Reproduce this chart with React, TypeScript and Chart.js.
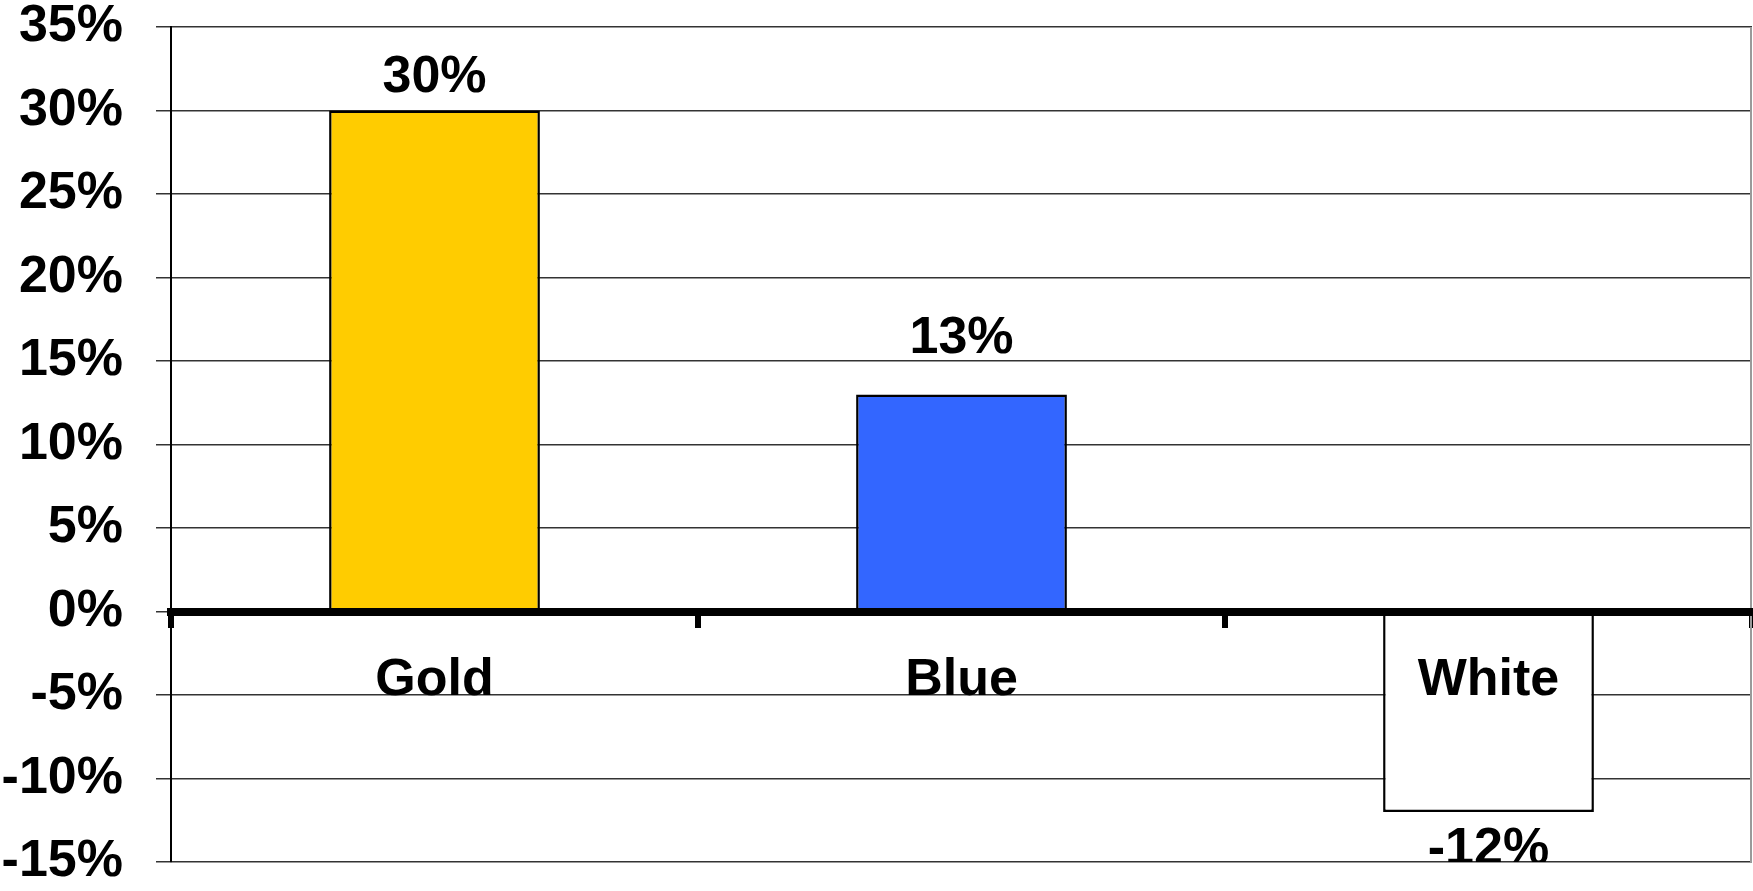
import React, { useEffect, useRef } from "react";
import { Chart, registerables } from "chart.js";

Chart.register(...registerables);

const categories = ["Gold", "Blue", "White"];
const values = [30, 13, -12];
const barColors = ["#FFCC00", "#3366FF", "#FFFFFF"];
const valueLabels = ["30%", "13%", "-12%"];
const yMin = -15;
const yMax = 35;
const yStep = 5;
const labelOffsets = [33, 56, 38];

const FONT = '"Liberation Sans", Arial, sans-serif';

const valueLabelPlugin = {
  id: "valueLabels",
  afterDatasetsDraw(chart: any) {
    const { ctx, chartArea } = chart;
    const meta = chart.getDatasetMeta(0);
    ctx.save();
    ctx.beginPath();
    ctx.rect(chartArea.left, chartArea.top, chartArea.right - chartArea.left, chartArea.bottom - chartArea.top);
    ctx.clip();
    ctx.font = `bold 52px ${FONT}`;
    ctx.fillStyle = "#000";
    ctx.textAlign = "center";
    ctx.textBaseline = "middle";
    meta.data.forEach((bar: any, i: number) => {
      const v = values[i];
      const off = labelOffsets[i];
      const y = v >= 0 ? bar.y - off : bar.y + off;
      ctx.fillText(valueLabels[i], bar.x, y);
    });
    ctx.restore();
    // right frame line
    ctx.save();
    ctx.strokeStyle = "#9a9a9a";
    ctx.lineWidth = 2;
    ctx.beginPath();
    ctx.moveTo(chartArea.right - 1, chartArea.top);
    ctx.lineTo(chartArea.right - 1, chartArea.bottom);
    ctx.stroke();
    ctx.restore();
  },
};

export default function App() {
  const ref = useRef<HTMLCanvasElement | null>(null);

  useEffect(() => {
    document.body.style.margin = "0";
    const canvas = ref.current!;
    const chart = new Chart(canvas, {
      type: "bar",
      data: {
        labels: categories,
        datasets: [
          {
            data: values,
            backgroundColor: barColors,
            borderColor: "#000",
            borderWidth: 2.5,
            borderSkipped: false,
            barPercentage: 0.4,
            categoryPercentage: 1,
          },
        ],
      },
      options: {
        animation: false,
        responsive: false,
        devicePixelRatio: 1,
        layout: { padding: { top: 27, bottom: 29, right: 1, left: 0 } },
        plugins: {
          legend: { display: false },
          tooltip: { enabled: false },
          title: { display: false },
        },
        scales: {
          x: {
            type: "category",
            position: { y: 0 } as any,
            offset: true,
            grid: {
              display: true,
              drawOnChartArea: false,
              drawTicks: true,
              tickLength: 12,
              lineWidth: 6,
              color: "#000",
              offset: true,
            },
            border: { display: true, width: 8, color: "#000", z: 1 } as any,
            ticks: {
              z: 1,
              padding: 26,
              color: "#000",
              font: { family: FONT, size: 52, weight: "bold" },
              maxRotation: 0,
            },
          },
          y: {
            min: yMin,
            max: yMax,
            position: "left",
            afterFit(scale: any) {
              scale.width = 171;
              scale.paddingTop = 0;
              scale.paddingBottom = 0;
            },
            grid: {
              color: "#333",
              lineWidth: 1.5,
              tickLength: 15,
              drawTicks: true,
            },
            border: { display: true, width: 2, color: "#000" },
            ticks: {
              stepSize: yStep,
              padding: 33,
              color: "#000",
              font: { family: FONT, size: 52, weight: "bold", lineHeight: 1 },
              callback: (v: any) => `${v}%`,
            },
          },
        },
      },
      plugins: [valueLabelPlugin],
    });
    return () => chart.destroy();
  }, []);

  return (
    <div style={{ position: "fixed", left: 0, top: 0, width: 1753, height: 891, background: "#fff" }}>
      <canvas ref={ref} width={1753} height={891} style={{ width: 1753, height: 891, display: "block" }} />
    </div>
  );
}
